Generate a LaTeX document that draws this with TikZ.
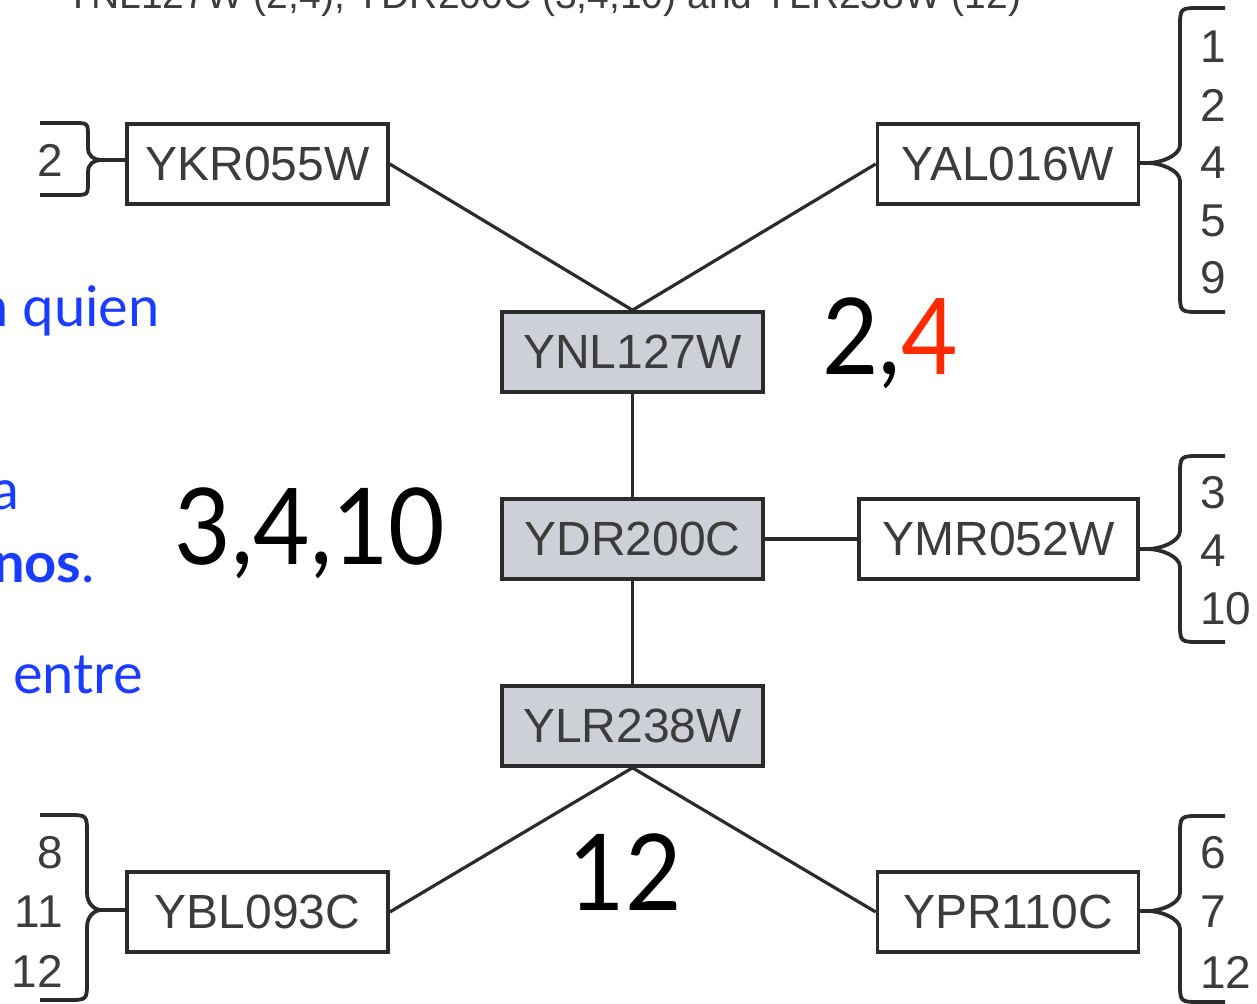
\documentclass[tikz,border=0pt]{standalone}
\usepackage{fontspec}
\setmainfont{Liberation Sans}
\newfontfamily\gill{Lato}
\usetikzlibrary{calc}
\definecolor{boxline}{HTML}{2B2B2B}
\definecolor{boxtext}{HTML}{3C3C3C}
\definecolor{boxfill}{HTML}{CDD0D6}
\definecolor{slideblue}{HTML}{1A3CFF}
\definecolor{slidered}{HTML}{FF2A00}
\tikzset{
  gene/.style={draw=boxline, line width=1.8pt, inner sep=0pt, minimum width=130.5pt, minimum height=40pt,
    font=\fontsize{24}{28}\selectfont, text=boxtext, fill=white},
  genegray/.style={gene, fill=boxfill},
  link/.style={draw=boxline, line width=1.6pt},
  brace/.style={draw=boxline, line width=1.9pt, line cap=butt},
  cond/.style={font=\fontsize{23}{26}\selectfont, text=boxtext, inner sep=0pt},
  bignum/.style={font=\gill\fontsize{53}{60}\selectfont, inner sep=0pt, xscale=0.92},
  bluetext/.style={font=\gill\fontsize{28}{34}\selectfont, text=slideblue, inner sep=0pt},
}
\begin{document}
\begin{tikzpicture}[x=0.5pt,y=-0.5pt]
\useasboundingbox (0,0) rectangle (1257,1004);
\clip (0,0) rectangle (1257,1004);
\fill[white] (0,0) rectangle (1257,1004);

% top caption (cut off)
\node[anchor=base west, inner sep=0pt, font=\fontsize{19.5}{22}\selectfont, text=boxtext] (cap) at (65,9)
  {YNL127W (2,4), YDR200C (3,4,10) and YLR238W (12)};

% gene boxes
\node[gene] (ykr) at (257.5,164) {YKR055W};
\node[gene] (yal) at (1008,164) {YAL016W};
\node[genegray] (ynl) at (632.5,352) {YNL127W};
\node[genegray] (ydr) at (632.5,539) {YDR200C};
\node[gene, minimum width=139.5pt] (ymr) at (998.5,539) {YMR052W};
\node[genegray] (ylr) at (632.5,726) {YLR238W};
\node[gene] (ybl) at (257.5,912) {YBL093C};
\node[gene] (ypr) at (1008,912) {YPR110C};

% connectors
\draw[link] (ykr.east) -- (ynl.north);
\draw[link] (yal.west) -- (ynl.north);
\draw[link] (ynl.south) -- (ydr.north);
\draw[link] (ydr.east) -- (ymr.west);
\draw[link] (ydr.south) -- (ylr.north);
\draw[link] (ylr.south) -- (ybl.east);
\draw[link] (ylr.south) -- (ypr.west);

% brace tips
\coordinate (tk) at (101,160);
\coordinate (ta) at (1148,163);
\coordinate (tm) at (1148,549);
\coordinate (tb) at (101,910);
\coordinate (tp) at (1148,911);
\draw[link] (tk) -- (tk -| ykr.west);
\draw[link] (ta) -- (ta -| yal.east);
\draw[link] (tm) -- (tm -| ymr.east);
\draw[link] (tb) -- (tb -| ybl.west);
\draw[link] (tp) -- (tp -| ypr.east);

% braces
\draw[brace] (40,123) -- (74,123) .. controls (88,123) .. (88,137) -- (88,148)
  .. controls (88,156) and (94,160) .. (tk)
  .. controls (94,160) and (88,164) .. (88,172) -- (88,181) .. controls (88,195) .. (74,195) -- (40,195);
\draw[brace] (1225,8) -- (1200,8) .. controls (1180,8) .. (1180,28) -- (1180,145)
  .. controls (1180,156) and (1160,163) .. (ta)
  .. controls (1160,163) and (1180,170) .. (1180,181) -- (1180,292) .. controls (1180,312) .. (1200,312) -- (1225,312);
\draw[brace] (1225,456) -- (1200,456) .. controls (1180,456) .. (1180,476) -- (1180,531)
  .. controls (1180,542) and (1160,549) .. (tm)
  .. controls (1160,549) and (1180,556) .. (1180,567) -- (1180,622) .. controls (1180,642) .. (1200,642) -- (1225,642);
\draw[brace] (40,815) -- (68,815) .. controls (87,815) .. (87,834) -- (87,893)
  .. controls (87,904) and (95,910) .. (tb)
  .. controls (95,910) and (87,916) .. (87,927) -- (87,981) .. controls (87,1000) .. (68,1000) -- (40,1000);
\draw[brace] (1225,816) -- (1200,816) .. controls (1180,816) .. (1180,836) -- (1180,893)
  .. controls (1180,904) and (1160,911) .. (tp)
  .. controls (1160,911) and (1180,918) .. (1180,929) -- (1180,982) .. controls (1180,1002) .. (1200,1002) -- (1225,1002);

% condition numbers
\node[cond, anchor=east] (k2) at (63,160) {2};
\node[cond, anchor=west] (a1) at (1200,47) {1};
\node[cond, anchor=west] (a2) at (1200,105) {2};
\node[cond, anchor=west] (a4) at (1200,163) {4};
\node[cond, anchor=west] (a5) at (1200,221) {5};
\node[cond, anchor=west] (a9) at (1200,278) {9};
\node[cond, anchor=west] (m3) at (1200,493) {3};
\node[cond, anchor=west] (m4) at (1200,551) {4};
\node[cond, anchor=west] (m10) at (1200,609) {10};
\node[cond, anchor=east] (b8) at (63,853) {8};
\node[cond, anchor=east] (b11) at (63,912) {11};
\node[cond, anchor=east] (b12) at (63,971) {12};
\node[cond, anchor=west] (p6) at (1200,853) {6};
\node[cond, anchor=west] (p7) at (1200,912) {7};
\node[cond, anchor=west] (p12) at (1200,972) {12};

% big numbers
\node[bignum, anchor=base] (n24) at (890,375) {2,\textcolor{slidered}{4}};
\node[bignum, anchor=base] (n3410) at (310,565) {3,4,10};
\node[bignum, anchor=base] (n12) at (625,910) {12};

% blue slide text (cut off at left)
\node[bluetext, anchor=base east] (t1) at (160,327) {n quien};
\node[bluetext, anchor=base east] (t2) at (20,510) {a};
\node[bluetext, anchor=base east] (t3) at (95,583) {\textbf{nos}.};
\node[bluetext, anchor=base east] (t4) at (143,693) {entre};
\end{tikzpicture}
\end{document}
